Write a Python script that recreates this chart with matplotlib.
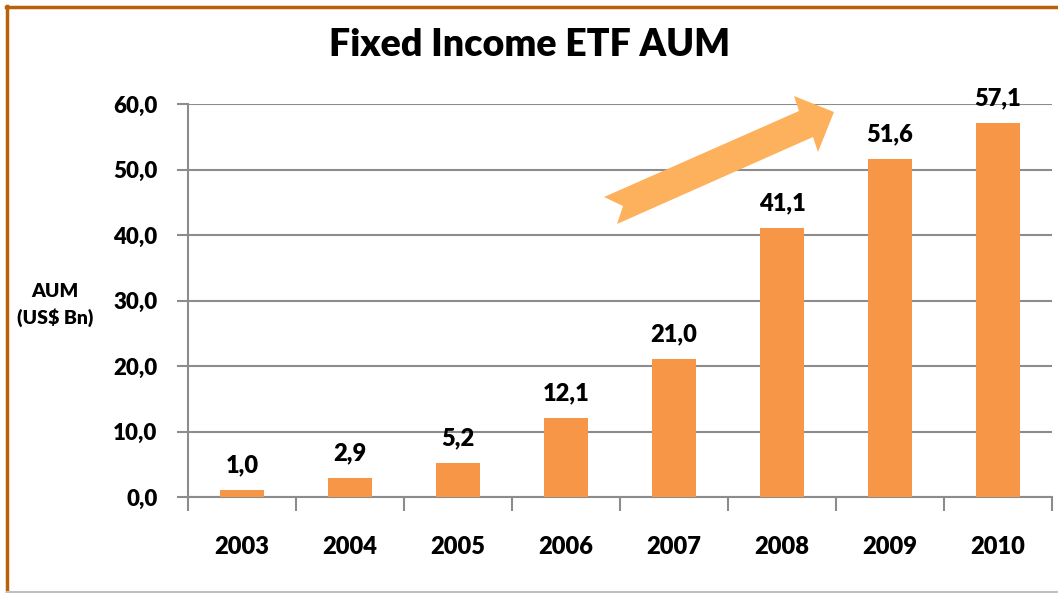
import matplotlib
matplotlib.use("Agg")
import matplotlib.pyplot as plt
from matplotlib.lines import Line2D
from matplotlib.patches import Polygon
from matplotlib.transforms import IdentityTransform

years = ["2003", "2004", "2005", "2006", "2007", "2008", "2009", "2010"]
aum = [1.0, 2.9, 5.2, 12.1, 21.0, 41.1, 51.6, 57.1]
yticks = [0, 10, 20, 30, 40, 50, 60]

plt.rcParams['font.family'] = ['Lato', 'DejaVu Sans']
plt.rcParams['font.weight'] = 'heavy'
WT = "heavy"

W, H = 1058, 593
fig = plt.figure(figsize=(W / 100, H / 100), dpi=100)
ax = fig.add_axes([188 / W, 96 / H, 864 / W, 393 / H])

x = range(len(years))
ax.bar(x, aum, width=0.4, color="#F79646", zorder=3)
for xi, v in zip(x, aum):
    ax.annotate(f"{v:.1f}".replace(".", ","), (xi, v), xytext=(0, 10),
                textcoords="offset points", ha="center", va="bottom",
                fontsize=17, fontweight=WT)

ax.set_xlim(-0.5, len(years) - 0.5)
ax.set_ylim(0, 60)
ax.set_yticks(yticks)
ax.set_yticklabels([f"{t:.1f}".replace(".", ",") for t in yticks],
                   fontsize=16, fontweight=WT)
ax.yaxis.grid(True, color="#8C8C8C", linewidth=1.5, zorder=0)
ax.set_axisbelow(True)

# category labels centred, ticks on the boundaries
ax.set_xticks([i - 0.5 for i in range(len(years) + 1)], minor=False)
ax.set_xticklabels([])
ax.set_xticks(list(x), minor=True)
ax.set_xticklabels(years, minor=True, fontsize=17, fontweight=WT)
ax.tick_params(axis="x", which="major", length=10, width=1.5, color="#8C8C8C", direction="out")
ax.tick_params(axis="x", which="minor", length=0, pad=28)
ax.tick_params(axis="y", length=8, width=1.5, color="#8C8C8C", pad=14)

for s in ["top", "right"]:
    ax.spines[s].set_visible(False)
for s in ["left", "bottom"]:
    ax.spines[s].set_color("#8C8C8C")
    ax.spines[s].set_linewidth(1.5)

fig.text(530 / W, 1 - 45 / H, "Fixed Income ETF AUM", ha="center", va="center",
         fontsize=27, fontweight=WT)
fig.text(55 / W, 1 - 305 / H, "AUM\n(US$ Bn)", ha="center", va="center",
         fontsize=14, fontweight=WT, linespacing=1.6)

# big growth arrow (pixel coords, top-left origin)
arrow_px = [(604, 197), (799, 111), (794, 96), (834, 112), (818, 152),
            (813, 137), (617, 224), (623, 206)]
arrow = Polygon([(px, H - py) for px, py in arrow_px], closed=True,
                facecolor="#FDB15D", edgecolor="none",
                transform=IdentityTransform(), zorder=5)
fig.patches.append(arrow)

# frame
fig.add_artist(Line2D([7 / W, 7 / W], [1 - 592 / H, 1 - 6 / H], color="#B8610A", linewidth=2.5))
fig.add_artist(Line2D([6 / W, 1], [1 - 7 / H, 1 - 7 / H], color="#B8610A", linewidth=2.5))
fig.add_artist(Line2D([7 / W, 1], [1 - 592 / H, 1 - 592 / H], color="#BFBFBF", linewidth=1.5))

fig.savefig("out.png", dpi=100)
